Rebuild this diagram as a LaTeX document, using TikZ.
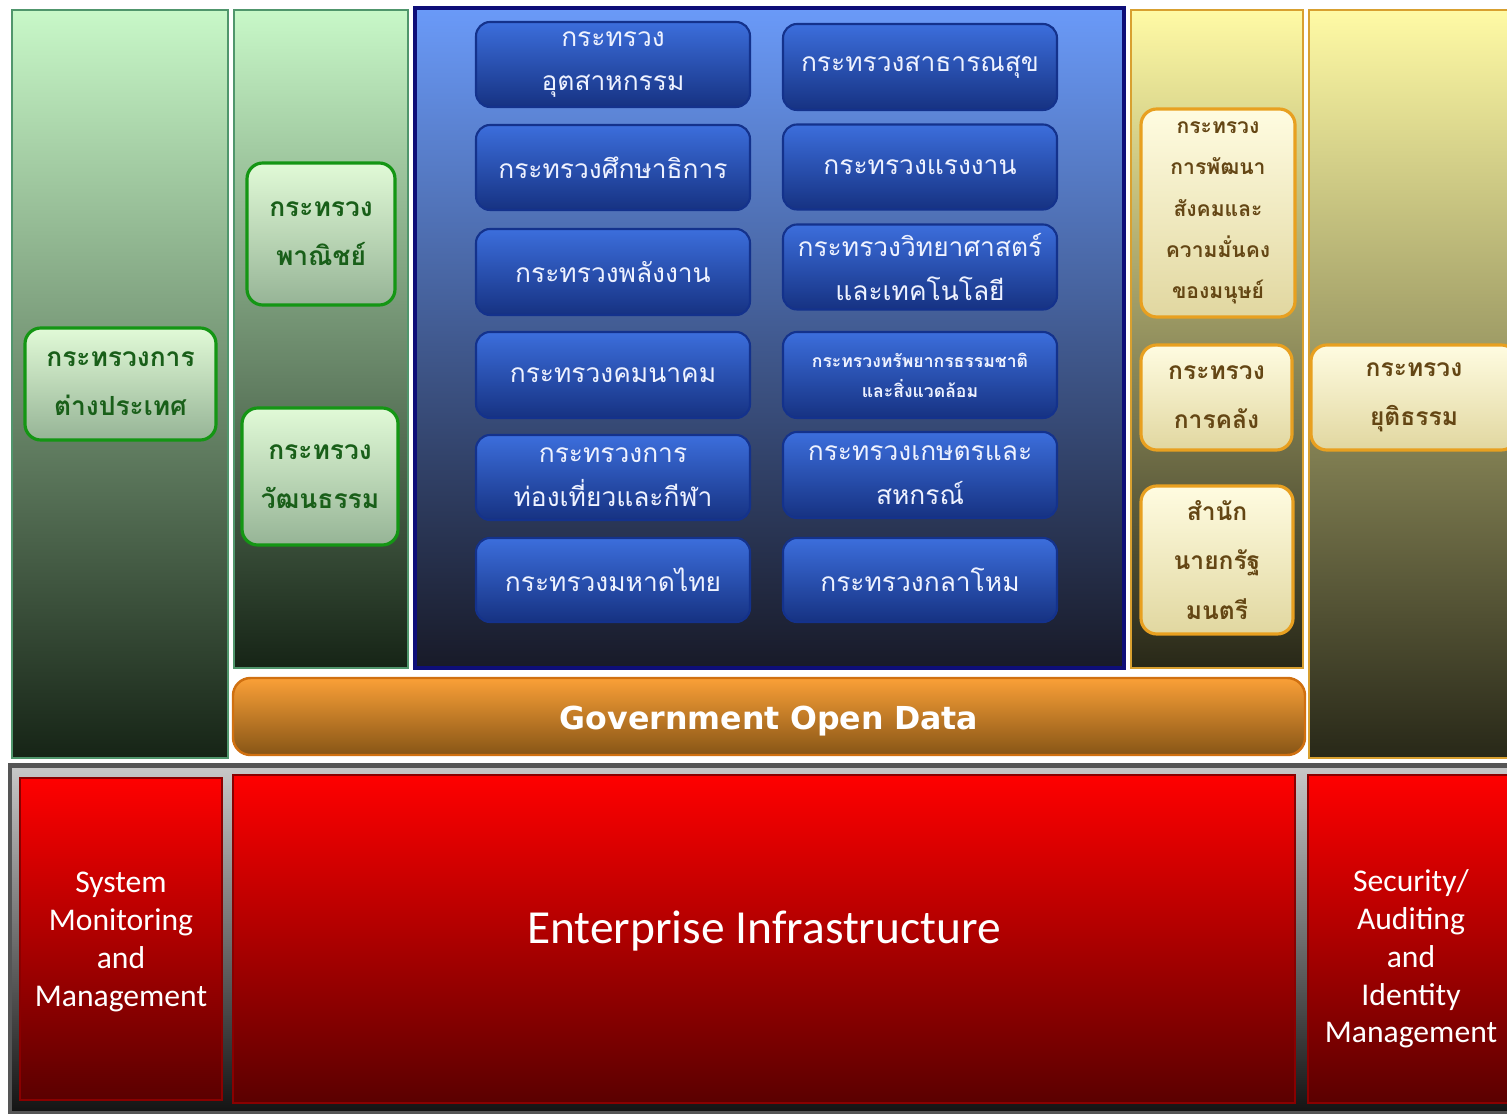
\documentclass[tikz,border=0pt]{standalone}
\usepackage{fontspec}
\setmainfont{Carlito}
\newfontfamily\thaiFont[Script=Thai]{Loma}
\newfontfamily\barFont{DejaVu Sans}
\definecolor{greenEdge}{RGB}{80,150,108}
\definecolor{greenTop}{RGB}{200,248,200}
\definecolor{greenBottom}{RGB}{22,36,22}
\definecolor{greenBoxEdge}{RGB}{20,150,20}
\definecolor{greenBoxTop}{RGB}{225,250,215}
\definecolor{greenBoxBottom}{RGB}{150,180,150}
\definecolor{greenText}{RGB}{25,95,25}
\definecolor{navyEdge}{RGB}{14,14,120}
\definecolor{blueTop}{RGB}{106,154,248}
\definecolor{blueBottom}{RGB}{24,26,40}
\definecolor{blueBoxEdge}{RGB}{20,50,140}
\definecolor{blueBoxTop}{RGB}{60,110,220}
\definecolor{blueBoxBottom}{RGB}{22,50,130}
\definecolor{blueText}{RGB}{238,242,255}
\definecolor{goldEdge}{RGB}{216,160,48}
\definecolor{goldTop}{RGB}{255,250,165}
\definecolor{goldBottom}{RGB}{40,40,24}
\definecolor{goldBoxEdge}{RGB}{232,160,32}
\definecolor{goldBoxTop}{RGB}{255,252,225}
\definecolor{goldBoxBottom}{RGB}{225,215,160}
\definecolor{goldText}{RGB}{100,70,20}
\definecolor{orangeEdge}{RGB}{208,112,16}
\definecolor{orangeTop}{RGB}{250,160,55}
\definecolor{orangeBottom}{RGB}{135,85,22}
\definecolor{redEdge}{RGB}{138,0,0}
\definecolor{redTop}{RGB}{255,0,0}
\definecolor{redBottom}{RGB}{90,0,0}
\definecolor{frameGray}{RGB}{85,85,85}

\tikzset{
  sizebox/.style 2 args={minimum width=#1*0.02cm, minimum height=#2*0.02cm, inner sep=2pt, align=center},
  greenCol/.style={draw=greenEdge, line width=1.6pt, top color=greenTop, bottom color=greenBottom},
  blueCol/.style={draw=navyEdge, line width=1.8pt, top color=blueTop, bottom color=blueBottom},
  goldCol/.style={draw=goldEdge, line width=1.6pt, top color=goldTop, bottom color=goldBottom},
  greenBox/.style={rounded corners=9pt, draw=greenBoxEdge, line width=1.8pt, top color=greenBoxTop, bottom color=greenBoxBottom, text=greenText, font=\thaiFont\bfseries\fontsize{15}{28}\selectfont},
  blueBox/.style={rounded corners=8pt, draw=blueBoxEdge, line width=1.2pt, top color=blueBoxTop, bottom color=blueBoxBottom, text=blueText, font=\thaiFont\fontsize{15}{25}\selectfont},
  goldBox/.style={rounded corners=9pt, draw=goldBoxEdge, line width=1.8pt, top color=goldBoxTop, bottom color=goldBoxBottom, text=goldText, font=\thaiFont\bfseries\fontsize{14}{28}\selectfont},
  redBox/.style={draw=redEdge, line width=1.4pt, top color=redTop, bottom color=redBottom},
  redText/.style={text=white, align=center, inner sep=0pt, font=\fontsize{18}{21.5}\selectfont},
}

\begin{document}
\begin{tikzpicture}[x=0.02cm,y=-0.02cm]
\useasboundingbox (0,0) rectangle (1507,1114);
\fill[white] (0,0) rectangle (1507,1114);

% bottom frame
\fill[frameGray] (8,763) rectangle (1512,1114);
\shade[top color=black!22, bottom color=black!92] (12,768) rectangle (1512,1110);

% columns
\node[greenCol, sizebox={216}{748}] (colForeign) at (120,384) {};
\node[greenCol, sizebox={174}{658}] (colTrade) at (321,339) {};
\node[blueCol, sizebox={709}{660}] (colCore) at (769.5,338) {};
\node[goldCol, sizebox={172}{658}] (colSocial) at (1217,339) {};
\node[goldCol, sizebox={206}{748}] (colJustice) at (1412,384) {};

% open data bar
\node[rounded corners=10pt, draw=orangeEdge, line width=1.4pt, top color=orangeTop, bottom color=orangeBottom, sizebox={1072}{77}, text=white, font=\barFont\bfseries\fontsize{18}{20}\selectfont] (openData) at (769,716.5) {};
\node[text=white, inner sep=0pt, font=\barFont\bfseries\fontsize{18}{20}\selectfont] (openDataText) at ([yshift=-0.1cm]openData.center) {Government\,\,Open\,\,Data};

% green ministries
\node[greenBox, sizebox={191}{112}] (foreign) at (120.5,384) {กระทรวงการ\\ต่างประเทศ};
\node[greenBox, sizebox={148}{142}] (commerce) at (321,234) {กระทรวง\\พาณิชย์};
\node[greenBox, sizebox={156}{137}] (culture) at (320,476.5) {กระทรวง\\วัฒนธรรม};

% blue ministries
\node[blueBox, sizebox={274}{85}] (industry) at (613,64.5) {กระทรวง\\อุตสาหกรรม};
\node[blueBox, sizebox={274}{86}] (health) at (920,67) {กระทรวงสาธารณสุข};
\node[blueBox, sizebox={274}{85}] (education) at (613,167.5) {กระทรวงศึกษาธิการ};
\node[blueBox, sizebox={274}{85}] (labour) at (920,167) {กระทรวงแรงงาน};
\node[blueBox, sizebox={274}{86}] (energy) at (613,272) {กระทรวงพลังงาน};
\node[blueBox, sizebox={274}{85}] (science) at (920,267) {กระทรวงวิทยาศาสตร์\\และเทคโนโลยี};
\node[blueBox, sizebox={274}{86}] (transport) at (613,375) {กระทรวงคมนาคม};
\node[blueBox, sizebox={274}{86}, font=\thaiFont\bfseries\fontsize{10}{17}\selectfont] (environment) at (920,375) {กระทรวงทรัพยากรธรรมชาติ\\และสิ่งแวดล้อม};
\node[blueBox, sizebox={274}{85}] (tourism) at (613,477.5) {กระทรวงการ\\ท่องเที่ยวและกีฬา};
\node[blueBox, sizebox={274}{86}] (agriculture) at (920,475) {กระทรวงเกษตรและ\\สหกรณ์};
\node[blueBox, sizebox={274}{84}] (interior) at (613,580) {กระทรวงมหาดไทย};
\node[blueBox, sizebox={274}{84}] (defence) at (920,580) {กระทรวงกลาโหม};

% gold ministries
\node[goldBox, sizebox={154}{208}, font=\thaiFont\bfseries\fontsize{12}{23.5}\selectfont] (social) at (1218,213) {กระทรวง\\การพัฒนา\\สังคมและ\\ความมั่นคง\\ของมนุษย์};
\node[goldBox, sizebox={151}{105}] (finance) at (1216.5,397.5) {กระทรวง\\การคลัง};
\node[goldBox, sizebox={152}{148}] (primeMinister) at (1217,560) {สำนัก\\นายกรัฐ\\มนตรี};
\node[goldBox, sizebox={206}{105}] (justice) at (1414,397.5) {กระทรวง\\ยุติธรรม};

% infrastructure
\node[redBox, sizebox={202}{322}] (sysMonitorBox) at (121,939) {};
\node[redBox, sizebox={1062}{328}] (infraBox) at (764,939) {};
\node[redBox, sizebox={206}{328}] (securityBox) at (1411,939) {};
\node[redText] (sysMonitor) at ([yshift=-0.06cm]sysMonitorBox.center) {System\\Monitoring\\and\\Management};
\node[redText, font=\fontsize{27}{30}\selectfont] (infra) at ([yshift=0.16cm]infraBox.center) {Enterprise Infrastructure};
\node[redText] (security) at ([yshift=-0.4cm]securityBox.center) {Security/\\Auditing\\and\\Identity\\Management};
\end{tikzpicture}
\end{document}
